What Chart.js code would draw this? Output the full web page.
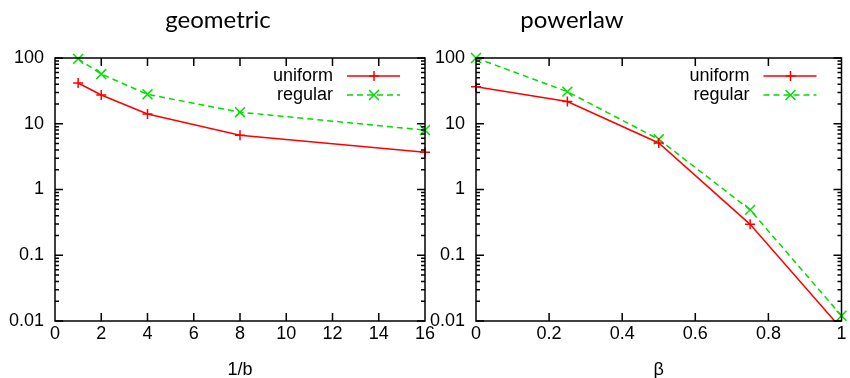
<!DOCTYPE html>
<html>
<head>
<meta charset="utf-8">
<script src="https://cdn.jsdelivr.net/npm/chart.js@4/dist/chart.umd.min.js"></script>
<style>
  body { margin: 0; background: #fff; }
  #wrap { position: relative; width: 850px; height: 378px; }
  .box { position: absolute; top: 0; height: 378px; }
</style>
</head>
<body>
<div id="wrap">
  <div class="box" style="left:0;width:442px"><canvas id="geo"></canvas></div>
  <div class="box" style="left:425px;width:425px"><canvas id="pow"></canvas></div>
</div>
<script>
// data
const seriesNames = ['uniform', 'regular'];
const geoX = [1, 2, 4, 8, 16];
const geoUniform = [41.7, 27.4, 14.1, 6.7, 3.7];
const geoRegular = [97, 57, 28, 15, 8.0];
const powX = [0, 0.25, 0.5, 0.75, 1];
const powUniform = [36.6, 21.8, 5.1, 0.295, 0.0076];
const powRegular = [100, 30.8, 5.8, 0.49, 0.012];
const yTickValues = [0.01, 0.1, 1, 10, 100];

const RED = '#ff0000';
const GREEN = '#00dd00';
const tickFont = { family: '"Liberation Sans", Arial, sans-serif', size: 18 };

function pts(xs, ys) {
  return xs.map((x, i) => ({ x: x, y: ys[i] }));
}

function isMajor(v) {
  const l = Math.log10(v);
  return Math.abs(l - Math.round(l)) < 1e-6;
}

// gnuplot-like frame: border, inward ticks on all four sides, legend, title
const framePlugin = {
  id: 'frame',
  afterDraw(chart, args, opts) {
    const ctx = chart.ctx;
    const a = chart.chartArea;
    const xs = chart.scales.x, ys = chart.scales.y;
    ctx.save();
    ctx.strokeStyle = '#000';
    ctx.lineWidth = 1.5;
    ctx.setLineDash([]);
    ctx.beginPath();
    xs.ticks.forEach(t => {
      const px = xs.getPixelForValue(t.value);
      if (px <= a.left + 1 || px >= a.right - 1) return;
      ctx.moveTo(px, a.bottom); ctx.lineTo(px, a.bottom - 8);
      ctx.moveTo(px, a.top); ctx.lineTo(px, a.top + 8);
    });
    ys.ticks.forEach(t => {
      const py = ys.getPixelForValue(t.value);
      const len = isMajor(t.value) ? 8 : 4;
      ctx.moveTo(a.left, py); ctx.lineTo(a.left + len, py);
      ctx.moveTo(a.right, py); ctx.lineTo(a.right - len, py);
    });
    ctx.stroke();
    ctx.strokeRect(a.left, a.top, a.right - a.left, a.bottom - a.top);

    // legend inside top right
    ctx.font = '18px "Liberation Sans", Arial, sans-serif';
    ctx.textAlign = 'right';
    ctx.textBaseline = 'middle';
    chart.data.datasets.forEach((ds, i) => {
      const y = a.top + 18 + i * 19;
      ctx.fillStyle = '#000';
      ctx.fillText(ds.label, a.right - 92, y);
      ctx.strokeStyle = ds.borderColor;
      ctx.lineWidth = ds.borderWidth;
      ctx.setLineDash(ds.borderDash || []);
      ctx.beginPath();
      ctx.moveTo(a.right - 78, y); ctx.lineTo(a.right - 25, y);
      ctx.stroke();
      ctx.setLineDash([]);
      Chart.helpers.drawPoint(ctx, {
        pointStyle: ds.pointStyle, radius: ds.pointRadius, rotation: 0, borderWidth: ds.pointBorderWidth
      }, a.right - 51, y);
    });

    // title
    ctx.fillStyle = '#000';
    ctx.font = '24px Lato, "Noto Sans", sans-serif';
    ctx.textAlign = 'center';
    ctx.textBaseline = 'alphabetic';
    ctx.fillText(opts.text, opts.x, 28);
    ctx.restore();
  }
};

function makeChart(id, xs, uni, reg, xOpts, yWidth, padRight, titleText, titleX) {
  const common = {
    type: 'line', borderWidth: 1.5, pointBorderWidth: 1.5,
    fill: false, tension: 0,
    clip: { left: 10, right: 10, top: 10, bottom: 0 }
  };
  return new Chart(document.getElementById(id), {
    type: 'line',
    data: {
      datasets: [
        Object.assign({}, common, {
          label: seriesNames[0], data: pts(xs, uni),
          borderColor: RED, backgroundColor: RED, pointStyle: 'cross',
          pointRadius: 5, pointHoverRadius: 5
        }),
        Object.assign({}, common, {
          label: seriesNames[1], data: pts(xs, reg),
          borderColor: GREEN, backgroundColor: GREEN, pointStyle: 'crossRot',
          pointRadius: 7, pointHoverRadius: 7,
          borderDash: [6, 4]
        })
      ]
    },
    options: {
      responsive: true,
      maintainAspectRatio: false,
      animation: false,
      layout: { padding: { top: 58, right: padRight, left: 0, bottom: 0 } },
      plugins: {
        legend: { display: false },
        tooltip: { enabled: false },
        frame: { text: titleText, x: titleX }
      },
      scales: {
        x: {
          type: 'linear',
          min: xOpts.min, max: xOpts.max,
          grid: { display: false, drawTicks: false },
          border: { display: false },
          ticks: {
            stepSize: xOpts.step, color: '#000', font: tickFont, padding: 2,
            maxRotation: 0, autoSkip: false,
            callback: v => String(+v.toFixed(2))
          },
          title: {
            display: true, text: xOpts.title, color: '#000',
            font: tickFont, padding: { top: 4, bottom: -3 }
          },
          afterFit(s) { s.height = 57; s.paddingLeft = 0; s.paddingRight = 0; }
        },
        y: {
          type: 'logarithmic',
          min: 0.01, max: 100,
          grid: { display: false, drawTicks: false },
          border: { display: false },
          afterBuildTicks(s) {
            const t = [];
            for (let d = 0; d < yTickValues.length; d++) {
              const base = yTickValues[d];
              if (d === yTickValues.length - 1) { t.push({ value: base }); break; }
              for (let m = 1; m <= 9; m++) t.push({ value: +(m * base).toPrecision(3) });
            }
            s.ticks = t;
          },
          ticks: {
            color: '#000', font: tickFont, padding: 11, autoSkip: false,
            callback: v => isMajor(v) ? String(yTickValues.find(y => Math.abs(y - v) < 1e-9)) : ''
          },
          afterFit(s) { s.width = yWidth; s.paddingTop = 0; s.paddingBottom = 0; }
        }
      }
    },
    plugins: [framePlugin]
  });
}

makeChart('geo', geoX, geoUniform, geoRegular,
  { min: 0, max: 16, step: 2, title: '1/b' }, 55, 17, 'geometric', 218);
makeChart('pow', powX, powUniform, powRegular,
  { min: 0, max: 1, step: 0.2, title: 'β' }, 51, 5, 'powerlaw', 147);
</script>
</body>
</html>
